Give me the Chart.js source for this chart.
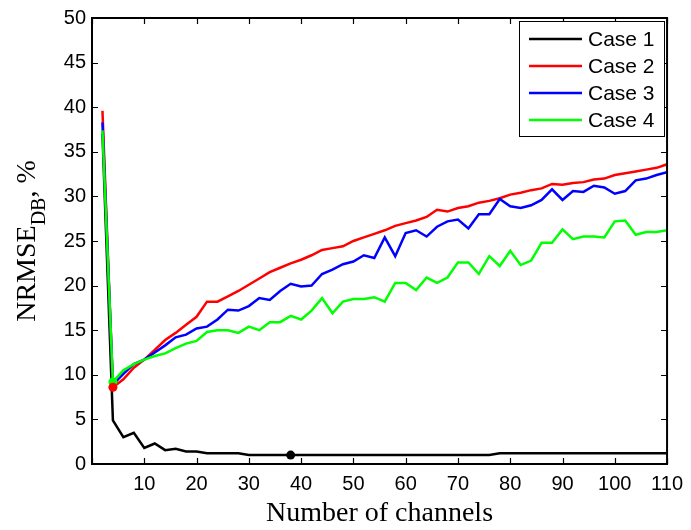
<!DOCTYPE html>
<html><head><meta charset="utf-8">
<script src="https://cdn.jsdelivr.net/npm/chart.js@4.4.1/dist/chart.umd.min.js"></script>
<style>html,body{margin:0;padding:0;background:#fff;}#wrap{width:691px;height:530px;position:relative;}</style>
</head><body><div id="wrap"><canvas id="c" width="691" height="530"></canvas></div>
<script>
const channels = [2,4,6,8,10,12,14,16,18,20,22,24,26,28,30,32,34,36,38,40,42,44,46,48,50,52,54,56,58,60,62,64,66,68,70,72,74,76,78,80,82,84,86,88,90,92,94,96,98,100,102,104,106,108,110];
const case1 = [37.0,4.9,3.0,3.5,1.8,2.3,1.55,1.7,1.4,1.4,1.2,1.2,1.2,1.2,1.0,1.0,1.0,1.0,1.0,1.0,1.0,1.0,1.0,1.0,1.0,1.0,1.0,1.0,1.0,1.0,1.0,1.0,1.0,1.0,1.0,1.0,1.0,1.0,1.2,1.2,1.2,1.2,1.2,1.2,1.2,1.2,1.2,1.2,1.2,1.2,1.2,1.2,1.2,1.2,1.2];
const case2 = [39.6,8.6,9.5,10.8,11.7,12.8,13.9,14.7,15.6,16.5,18.2,18.2,18.8,19.4,20.1,20.8,21.5,22.0,22.5,22.9,23.4,24.0,24.2,24.4,25.0,25.4,25.8,26.2,26.7,27.0,27.3,27.7,28.5,28.3,28.7,28.9,29.3,29.5,29.8,30.2,30.4,30.7,30.9,31.4,31.3,31.5,31.6,31.9,32.0,32.4,32.6,32.8,33.0,33.2,33.6];
const case3 = [38.3,8.9,10.1,11.2,11.7,12.5,13.3,14.2,14.5,15.2,15.4,16.2,17.3,17.2,17.7,18.6,18.4,19.4,20.2,19.9,20.0,21.3,21.8,22.4,22.7,23.4,23.1,25.4,23.3,25.9,26.2,25.5,26.6,27.2,27.4,26.4,28.0,28.0,29.7,28.9,28.7,29.0,29.6,30.8,29.6,30.6,30.5,31.2,31.0,30.3,30.6,31.8,32.0,32.4,32.7];
const case4 = [37.4,9.2,10.5,11.2,11.7,12.1,12.4,13.0,13.5,13.8,14.8,15.0,15.0,14.7,15.4,15.0,15.9,15.9,16.6,16.2,17.2,18.6,16.9,18.2,18.5,18.5,18.7,18.2,20.3,20.3,19.5,20.9,20.3,20.9,22.6,22.6,21.3,23.3,22.2,23.9,22.3,22.8,24.8,24.8,26.3,25.2,25.5,25.5,25.4,27.2,27.3,25.7,26.0,26.0,26.2];
const minCase1 = [{x:38, y:1.0}];
const minCase2 = [{x:4, y:8.6}];
const minCase4 = [{x:4, y:9.2}];
const seriesLabels = ['Case 1','Case 2','Case 3','Case 4'];
const seriesColors = ['#000000','#ff0000','#0000ff','#00ff00'];
const xTickValues = [0,10,20,30,40,50,60,70,80,90,100,110];
const yTickValues = [0,5,10,15,20,25,30,35,40,45,50];
const xTitle = 'Number of channels';
const yTitleMain = 'NRMSE', yTitleSub = 'DB', yTitleTail = ', %';

const seriesData = [case1, case2, case3, case4];
const lineDatasets = seriesData.map((arr, i) => ({
  label: seriesLabels[i],
  data: channels.map((c, j) => ({x: c, y: arr[j]})),
  borderColor: seriesColors[i],
  backgroundColor: seriesColors[i],
  borderWidth: 2.5,
  pointRadius: 0,
  tension: 0,
  fill: false,
  order: 4 - i
}));
const markerDs = (data, color, order) => ({
  label: 'min', data, showLine: false, pointRadius: 4.5, pointHoverRadius: 4.5,
  pointBackgroundColor: color, pointBorderColor: color, borderWidth: 0, order
});
const datasets = lineDatasets.concat([
  markerDs(minCase4, '#00ff00', 0),
  markerDs(minCase2, '#ff0000', -1),
  markerDs(minCase1, '#000000', -1)
]);

const SANS = "'Liberation Sans', Arial, sans-serif";
const SERIF = "'Liberation Serif', 'Times New Roman', serif";

const decor = {
  id: 'decor',
  afterDraw(chart) {
    const ctx = chart.ctx, a = chart.chartArea;
    const xs = chart.scales.x, ys = chart.scales.y;
    ctx.save();
    ctx.strokeStyle = '#000'; ctx.lineWidth = 2;
    ctx.strokeRect(a.left, a.top, a.right - a.left, a.bottom - a.top);
    ctx.lineWidth = 1.2;
    ctx.beginPath();
    xTickValues.forEach(v => {
      const px = Math.round(xs.getPixelForValue(v)) + 0.5;
      ctx.moveTo(px, a.bottom); ctx.lineTo(px, a.bottom - 6);
      ctx.moveTo(px, a.top); ctx.lineTo(px, a.top + 6);
    });
    yTickValues.forEach(v => {
      const py = Math.round(ys.getPixelForValue(v)) + 0.5;
      ctx.moveTo(a.left, py); ctx.lineTo(a.left + 6, py);
      ctx.moveTo(a.right, py); ctx.lineTo(a.right - 6, py);
    });
    ctx.stroke();
    const lx = 519.5, ly = 21.5, lw = 145, lh = 115;
    ctx.fillStyle = '#fff'; ctx.fillRect(lx, ly, lw, lh);
    ctx.strokeStyle = '#000'; ctx.lineWidth = 1; ctx.strokeRect(lx, ly, lw, lh);
    ctx.font = '21px ' + SANS; ctx.textBaseline = 'middle'; ctx.textAlign = 'left';
    seriesLabels.forEach((lab, i) => {
      const y = 39 + i * 27;
      ctx.strokeStyle = seriesColors[i]; ctx.lineWidth = 2.5;
      ctx.beginPath(); ctx.moveTo(529, y); ctx.lineTo(582, y); ctx.stroke();
      ctx.fillStyle = '#000'; ctx.fillText(lab, 588, y + 1);
    });
    ctx.fillStyle = '#000';
    ctx.font = '28px ' + SERIF; ctx.textAlign = 'center'; ctx.textBaseline = 'alphabetic';
    ctx.fillText(xTitle, (a.left + a.right) / 2, 521);
    const mainF = '28px ' + SERIF, subF = '20px ' + SERIF;
    ctx.font = mainF; const w1 = ctx.measureText(yTitleMain).width, w3 = ctx.measureText(yTitleTail).width;
    ctx.font = subF; const w2 = ctx.measureText(yTitleSub).width;
    const total = w1 + w2 + w3;
    ctx.translate(35, (a.top + a.bottom) / 2);
    ctx.rotate(-Math.PI / 2);
    ctx.textAlign = 'left';
    let x0 = -total / 2;
    ctx.font = mainF; ctx.fillText(yTitleMain, x0, 0); x0 += w1;
    ctx.font = subF; ctx.fillText(yTitleSub, x0, 10); x0 += w2;
    ctx.font = mainF; ctx.fillText(yTitleTail, x0, 0);
    ctx.restore();
  }
};

new Chart(document.getElementById('c'), {
  type: 'line',
  data: { datasets },
  options: {
    responsive: false,
    animation: false,
    devicePixelRatio: 1,
    layout: { padding: { left: 0, right: 20, top: 12, bottom: 0 } },
    plugins: { legend: { display: false }, tooltip: { enabled: false } },
    scales: {
      x: {
        type: 'linear', min: 0, max: 110,
        afterFit(s) { s.height = 66; },
        afterBuildTicks(s) { s.ticks = xTickValues.map(v => ({ value: v })); },
        ticks: { callback: v => (v === 0 ? '' : String(v)), font: { family: SANS, size: 20 }, color: '#000', padding: 8, maxRotation: 0, autoSkip: false },
        grid: { display: false, drawTicks: false },
        border: { display: false }
      },
      y: {
        type: 'linear', min: 0, max: 50,
        afterFit(s) { s.width = 92; },
        afterBuildTicks(s) { s.ticks = yTickValues.map(v => ({ value: v })); },
        ticks: { font: { family: SANS, size: 20 }, color: '#000', padding: 6, autoSkip: false },
        grid: { display: false, drawTicks: false },
        border: { display: false }
      }
    }
  },
  plugins: [decor]
});
</script></body></html>
